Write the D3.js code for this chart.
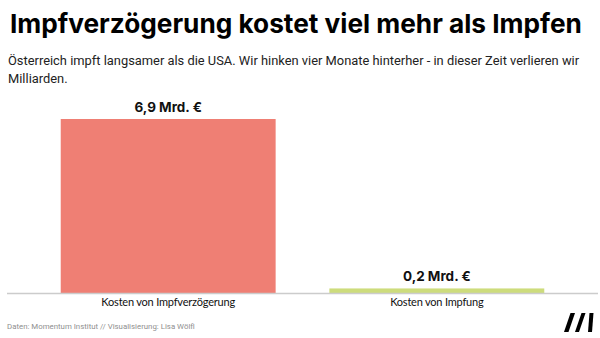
<!DOCTYPE html>
<html>
<head>
<meta charset="utf-8">
<script src="https://cdn.jsdelivr.net/npm/d3@7"></script>
<style>
  html, body { margin: 0; padding: 0; background: #fff; }
  svg { display: block; }
</style>
</head>
<body>
<svg id="chart" width="600" height="338"></svg>
<script>
// Kosten in Mrd. Euro
const categories = ["Kosten von Impfverzögerung", "Kosten von Impfung"];
const values = [6.9, 0.2];
const valueLabels = ["6,9 Mrd. €", "0,2 Mrd. €"];
const colors = ["#ef7f74", "#cddc7c"];

const title = "Impfverzögerung kostet viel mehr als Impfen";
const subtitleLines = [
  "Österreich impft langsamer als die USA. Wir hinken vier Monate hinterher - in dieser Zeit verlieren wir",
  "Milliarden."
];
const footer = "Daten: Momentum Institut // Visualisierung: Lisa Wölfl";

const svg = d3.select("#chart");

const plot = { left: 7, right: 598, top: 119, bottom: 293.5 };

const x = d3.scaleBand()
  .domain(categories)
  .range([plot.left, plot.right])
  .paddingInner(0.2)
  .paddingOuter(0.2);

const y = d3.scaleLinear()
  .domain([0, d3.max(values)])
  .range([plot.bottom, plot.top]);

// shrink a text's font size until it fits the given width
function fitWidth(sel, width, size) {
  sel.attr("font-size", size);
  const w = sel.node().getComputedTextLength();
  if (w > 0) sel.attr("font-size", size * width / w);
  return sel;
}

// Title
const t = svg.append("text")
  .attr("x", 10).attr("y", 32.5)
  .attr("font-family", "Inter, 'Open Sans', sans-serif")
  .attr("font-weight", 700)
  .attr("fill", "#000")
  .text(title);
fitWidth(t, 572, 22);

// Subtitle
const sub0 = svg.append("text")
  .attr("x", 8).attr("y", 65)
  .attr("font-family", "Roboto, sans-serif")
  .attr("fill", "#222")
  .text(subtitleLines[0]);
fitWidth(sub0, 572, 14);
const subSize = +sub0.attr("font-size");
svg.append("text")
  .attr("x", 8).attr("y", 82.5)
  .attr("font-family", "Roboto, sans-serif")
  .attr("font-size", subSize)
  .attr("fill", "#222")
  .text(subtitleLines[1]);

// Bars
const rows = categories.map((c, i) => ({ cat: c, value: values[i], label: valueLabels[i], color: colors[i] }));

svg.append("g").selectAll("rect")
  .data(rows)
  .join("rect")
  .attr("x", d => x(d.cat))
  .attr("width", x.bandwidth())
  .attr("y", d => y(d.value))
  .attr("height", d => y(0) - y(d.value))
  .attr("fill", d => d.color);

// Baseline and category labels
const axis = d3.axisBottom(x).tickSize(0).tickPadding(6);
const ax = svg.append("g")
  .attr("transform", `translate(0,${plot.bottom})`)
  .call(axis);
ax.select(".domain").attr("stroke", "#cccccc").attr("stroke-width", 1.5)
  .attr("d", `M${plot.left},0H${plot.right}`);
ax.selectAll(".tick text")
  .attr("font-family", "Lato, Inter, sans-serif")
  .attr("font-size", 11)
  .attr("letter-spacing", "-0.2px")
  .attr("fill", "#111")
  .attr("dy", "0.71em")
  .attr("y", 5);

// Value labels
svg.append("g").selectAll("text")
  .data(rows)
  .join("text")
  .attr("x", d => x(d.cat) + x.bandwidth() / 2)
  .attr("y", d => y(d.value) - 7.5)
  .attr("text-anchor", "middle")
  .attr("font-family", "Inter, Lato, sans-serif")
  .attr("font-weight", 700)
  .attr("font-size", 13.5)
  .attr("fill", "#111")
  .text(d => d.label);

// Footer
const f = svg.append("text")
  .attr("x", 7).attr("y", 329)
  .attr("font-family", "Roboto, sans-serif")
  .attr("fill", "#8f8f8f")
  .text(footer);
fitWidth(f, 188, 9);

// Logo
const logo = svg.append("g").attr("transform", "translate(564,313)").attr("fill", "#000");
logo.append("path").attr("d", "M0,19 L6.5,0 L11,0 L4.5,19 Z");
logo.append("path").attr("d", "M11,19 L17.5,0 L21.5,0 L15,19 Z");
logo.append("path").attr("d", "M24,19 L25.5,0 L29.5,0 L28,19 Z");
</script>
</body>
</html>
